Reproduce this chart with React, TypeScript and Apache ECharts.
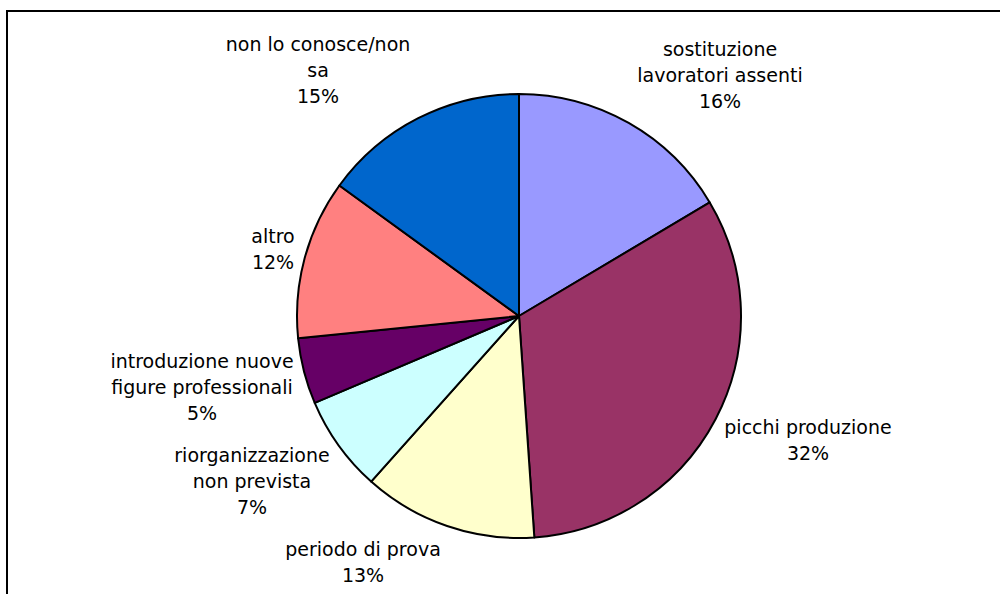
import React, { useEffect, useRef } from "react";
import * as echarts from "echarts";

// Categories (clockwise from 12 o'clock)
const categories = [
  "sostituzione lavoratori assenti",
  "picchi produzione",
  "periodo di prova",
  "riorganizzazione non prevista",
  "introduzione nuove figure professionali",
  "altro",
  "non lo conosce/non sa",
];

// Shares (%); labels round to 16/32/13/7/5/12/15
const values = [16.45, 32.45, 12.7, 7.0, 4.8, 11.6, 15.0];

// Wrapped label text as in the reference
const wrappedLabels = [
  "sostituzione\nlavoratori assenti",
  "picchi produzione",
  "periodo di prova",
  "riorganizzazione\nnon prevista",
  "introduzione nuove\nfigure professionali",
  "altro",
  "non lo conosce/non\nsa",
];

const colors = ["#9999FF", "#993366", "#FFFFCC", "#CCFFFF", "#660066", "#FF8080", "#0066CC"];

// Label block centers (pixels)
const labelPos: [number, number][] = [
  [720, 75],
  [808, 440],
  [363, 562],
  [252, 481],
  [202, 387],
  [273, 249],
  [318, 70],
];

export default function App() {
  const ref = useRef<HTMLDivElement>(null);
  useEffect(() => {
    if (!ref.current) return;
    const chart = echarts.init(ref.current, undefined, { renderer: "svg" });
    chart.setOption({
      animation: false,
      backgroundColor: "#ffffff",
      graphic: [
        {
          type: "rect",
          shape: { x: 7, y: 11, width: 1200, height: 800 },
          style: { fill: "none", stroke: "#000", lineWidth: 2 },
          z: 0,
        },
      ],
      series: [
        {
          type: "pie",
          center: [519, 316],
          radius: 222,
          startAngle: 90,
          clockwise: true,
          avoidLabelOverlap: false,
          itemStyle: { borderColor: "#000", borderWidth: 2 },
          label: {
            show: true,
            position: "outside",
            fontFamily: "DejaVu Sans, Verdana, sans-serif",
            fontSize: 19,
            lineHeight: 26,
            color: "#000",
            align: "center",
            formatter: (p: any) => `${wrappedLabels[p.dataIndex]}\n${Math.round(p.percent)}%`,
          },
          labelLine: { show: false },
          labelLayout: (p: any) => ({
            x: labelPos[p.dataIndex][0],
            y: labelPos[p.dataIndex][1],
            align: "center",
            verticalAlign: "middle",
          }),
          emphasis: { disabled: true },
          data: categories.map((name, i) => ({
            name,
            value: values[i],
            itemStyle: { color: colors[i] },
          })),
        },
      ],
    });
    return () => chart.dispose();
  }, []);
  return (
    <div
      ref={ref}
      style={{ position: "absolute", left: 0, top: 0, width: 1000, height: 594 }}
    />
  );
}
